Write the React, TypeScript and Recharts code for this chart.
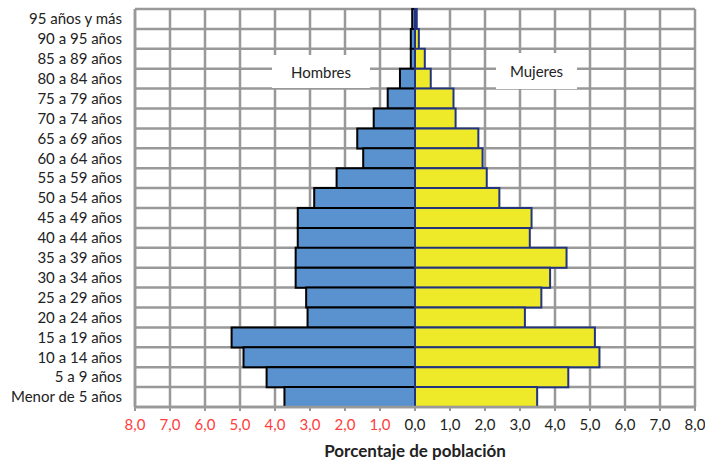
import React from 'react';
import { BarChart, Bar, XAxis, YAxis, CartesianGrid } from 'recharts';

// Age groups, top to bottom as drawn
const categories = [
  '95 años y más', '90 a 95 años', '85 a 89 años', '80 a 84 años', '75 a 79 años',
  '70 a 74 años', '65 a 69 años', '60 a 64 años', '55 a 59 años', '50 a 54 años',
  '45 a 49 años', '40 a 44 años', '35 a 39 años', '30 a 34 años', '25 a 29 años',
  '20 a 24 años', '15 a 19 años', '10 a 14 años', '5 a 9 años', 'Menor de 5 años',
];

// Percent of population
const hombres = [0.08, 0.12, 0.12, 0.43, 0.78, 1.18, 1.65, 1.48, 2.24, 2.88, 3.35, 3.35, 3.41, 3.41, 3.11, 3.07, 5.24, 4.9, 4.24, 3.73];
const mujeres = [0.05, 0.11, 0.28, 0.45, 1.1, 1.16, 1.81, 1.93, 2.05, 2.41, 3.33, 3.28, 4.33, 3.86, 3.61, 3.14, 5.14, 5.27, 4.38, 3.49];

const xTicks = [-8, -7, -6, -5, -4, -3, -2, -1, 0, 1, 2, 3, 4, 5, 6, 7, 8];
const seriesNames = ['Hombres', 'Mujeres'];

const FONT = 'Lato, "Open Sans", sans-serif';

const data = categories.map((c, i) => ({ name: c, hombres: -hombres[i], mujeres: mujeres[i] }));

const XTick = ({ x, y, payload }: any) => {
  const v = payload.value as number;
  return (
    <text x={x} y={y} dy="0.71em" textAnchor="middle" fontSize={15} fontFamily={FONT} fill={v < 0 ? '#ff3c3c' : '#222'}>
      {Math.abs(v).toFixed(1).replace('.', ',')}
    </text>
  );
};

export default function App() {
  return (
    <div style={{ position: 'absolute', left: 0, top: 0, width: 705, height: 461, background: '#fff' }}>
      <BarChart
        width={705}
        height={461}
        data={data}
        layout="vertical"
        stackOffset="sign"
        barCategoryGap={0}
        margin={{ top: 9, right: 10, bottom: 0, left: 0 }}
      >
        <CartesianGrid
          stroke="#999"
          strokeWidth={2.5}
          horizontalCoordinatesGenerator={({ offset }: any) =>
            categories.map((_, i) => offset.top + (i * offset.height) / categories.length).concat(offset.top + offset.height)
          }
        />
        <XAxis
          type="number"
          domain={[-8, 8]}
          ticks={xTicks}
          interval={0}
          height={54}
          tickSize={4}
          tickMargin={8}
          axisLine={{ stroke: '#999', strokeWidth: 2.5 }}
          tickLine={{ stroke: '#999', strokeWidth: 2 }}
          tick={<XTick />}
          label={{
            content: ({ viewBox }: any) => (
              <text
                x={viewBox.x + viewBox.width / 2}
                y={viewBox.y + viewBox.height - 4}
                textAnchor="middle"
                fontSize={17}
                fontWeight="bold"
                fontFamily={FONT}
                fill="#222"
              >
                Porcentaje de población
              </text>
            ),
          }}
        />
        <YAxis
          type="category"
          dataKey="name"
          width={135}
          tickSize={0}
          tickMargin={13}
          axisLine={{ stroke: '#999', strokeWidth: 2.5 }}
          tickLine={false}
          interval={0}
          tick={{ fontSize: 15, fontFamily: FONT, fill: '#222' }}
        />
        <Bar dataKey="hombres" name={seriesNames[0]} stackId="p" fill="#5a92cf" stroke="#000" strokeWidth={2} isAnimationActive={false} />
        <Bar dataKey="mujeres" name={seriesNames[1]} stackId="p" fill="#eeea2a" stroke="#23347f" strokeWidth={2} isAnimationActive={false} />
      </BarChart>
      <div style={{ position: 'absolute', left: 272, top: 55, width: 98, height: 33, background: '#fff', display: 'flex', alignItems: 'center', justifyContent: 'center', fontFamily: FONT, fontSize: 15, color: '#222' }}>
        {seriesNames[0]}
      </div>
      <div style={{ position: 'absolute', left: 496, top: 53, width: 81, height: 36, background: '#fff', display: 'flex', alignItems: 'center', justifyContent: 'center', fontFamily: FONT, fontSize: 15, color: '#222' }}>
        {seriesNames[1]}
      </div>
    </div>
  );
}
